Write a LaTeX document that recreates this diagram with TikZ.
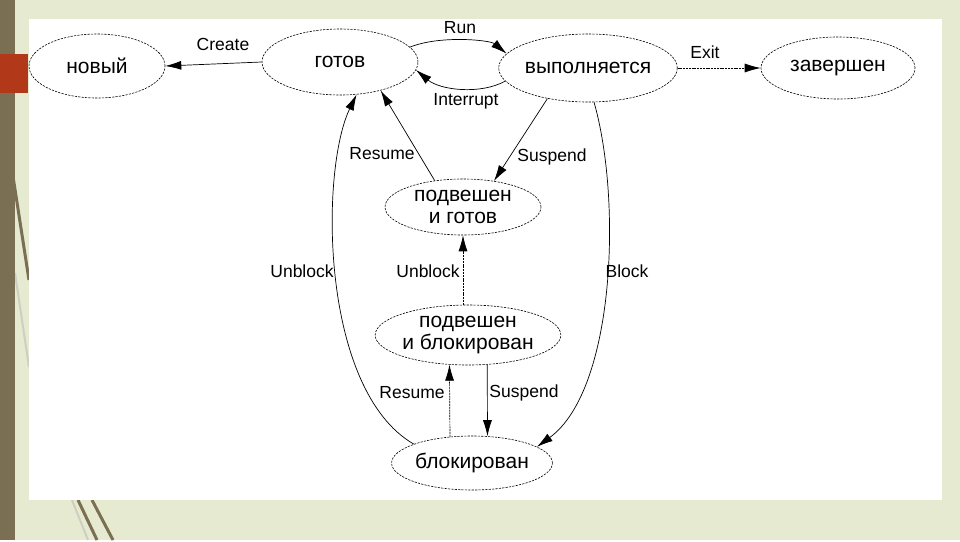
\documentclass[tikz,border=0pt]{standalone}
\usepackage{fontspec}
\setmainfont{Liberation Sans}
\usetikzlibrary{shapes.geometric,arrows.meta}
\definecolor{slidebg}{RGB}{229,234,208}
\definecolor{slidebar}{RGB}{122,111,82}
\definecolor{slidered}{RGB}{178,56,26}
\tikzset{state/.style={ellipse,draw,dash pattern=on 2.2pt off 1.2pt,line width=0.6pt,inner sep=0pt,align=center,font=\fontsize{21}{21.5}\selectfont},
  tr/.style={-{Latex[length=16pt,width=9pt]},line width=0.7pt},
  trd/.style={tr,dash pattern=on 2pt off 0.8pt},
  lbl/.style={font=\fontsize{17.5}{19}\selectfont,inner sep=0pt}}
\begin{document}
\begin{tikzpicture}[x=1pt,y=-1pt]
  \fill[slidebg] (0,0) rectangle (960,540);
  \draw[slidebar!35,line width=2pt] (15,273) -- (29,367);
  \draw[slidebar!35,line width=2pt] (72,500) -- (88,540);
  \draw[slidebar,line width=3pt] (12,170) -- (29,280);
  \draw[slidebar,line width=3pt] (78,500) -- (97,540);
  \draw[slidebar,line width=3pt] (92,500) -- (113,540);
  \fill[white] (29,19) rectangle (942,500);
  \fill[slidebar] (0,0) rectangle (15,540);
  \fill[slidered] (0,54) rectangle (28,93);

  \node[state,minimum width=136pt,minimum height=64pt] (novyj) at (97,66) {новый};
  \node[state,minimum width=156pt,minimum height=66pt] (gotov) at (340,62) {готов};
  \node[state,minimum width=152pt,minimum height=68pt] (vyp) at (588,68) {выполняется};
  \node[state,minimum width=154pt,minimum height=62pt] (zav) at (838,68) {завершен};
  \node[state,minimum width=156pt,minimum height=56pt] (podgot) at (463,207) {подвешен\\и готов};
  \node[state,minimum width=156pt,minimum height=60pt] (podblok) at (468,335) {подвешен\\и блокирован};
  \node[state,minimum width=160pt,minimum height=54pt] (blok) at (472,463) {блокирован};

  \draw[tr] (gotov.west) -- (novyj.east);
  \draw[tr] (gotov.12) .. controls (440,35) and (490,40) .. (vyp.170);
  \draw[tr] (vyp.189) .. controls (480,95) and (440,90) .. (gotov.354);
  \draw[trd] (vyp.east) -- (zav.west);
  \draw[tr] (vyp.217) -- (podgot.40);
  \draw[tr] (podgot.137) -- (gotov.325);
  \draw[tr] (blok.162) .. controls (320,390) and (320,170) .. (gotov.297);
  \draw[tr] (vyp.280) .. controls (622,200) and (615,390) .. (blok.14);
  \draw[trd] (podblok.north -| podgot.south) -- (podgot.south);
  \draw[trd] (blok.130) -- (podblok.238);
  \draw[tr] (podblok.303) -- (blok.60);

  \node[lbl] (lcreate) at (223,44) {Create};
  \node[lbl] (lrun) at (460,28) {Run};
  \node[lbl] (lint) at (466,101) {Interrupt};
  \node[lbl] (lexit) at (705,52) {Exit};
  \node[lbl] (lsus) at (552,157) {Suspend};
  \node[lbl] (lres) at (382,154) {Resume};
  \node[lbl] (lunbl) at (302,271) {Unblock};
  \node[lbl] (lunbm) at (428,271) {Unblock};
  \node[lbl] (lblock) at (627,271) {Block};
  \node[lbl] (lresb) at (412,393) {Resume};
  \node[lbl] (lsusb) at (524,393) {Suspend};
\end{tikzpicture}
\end{document}
